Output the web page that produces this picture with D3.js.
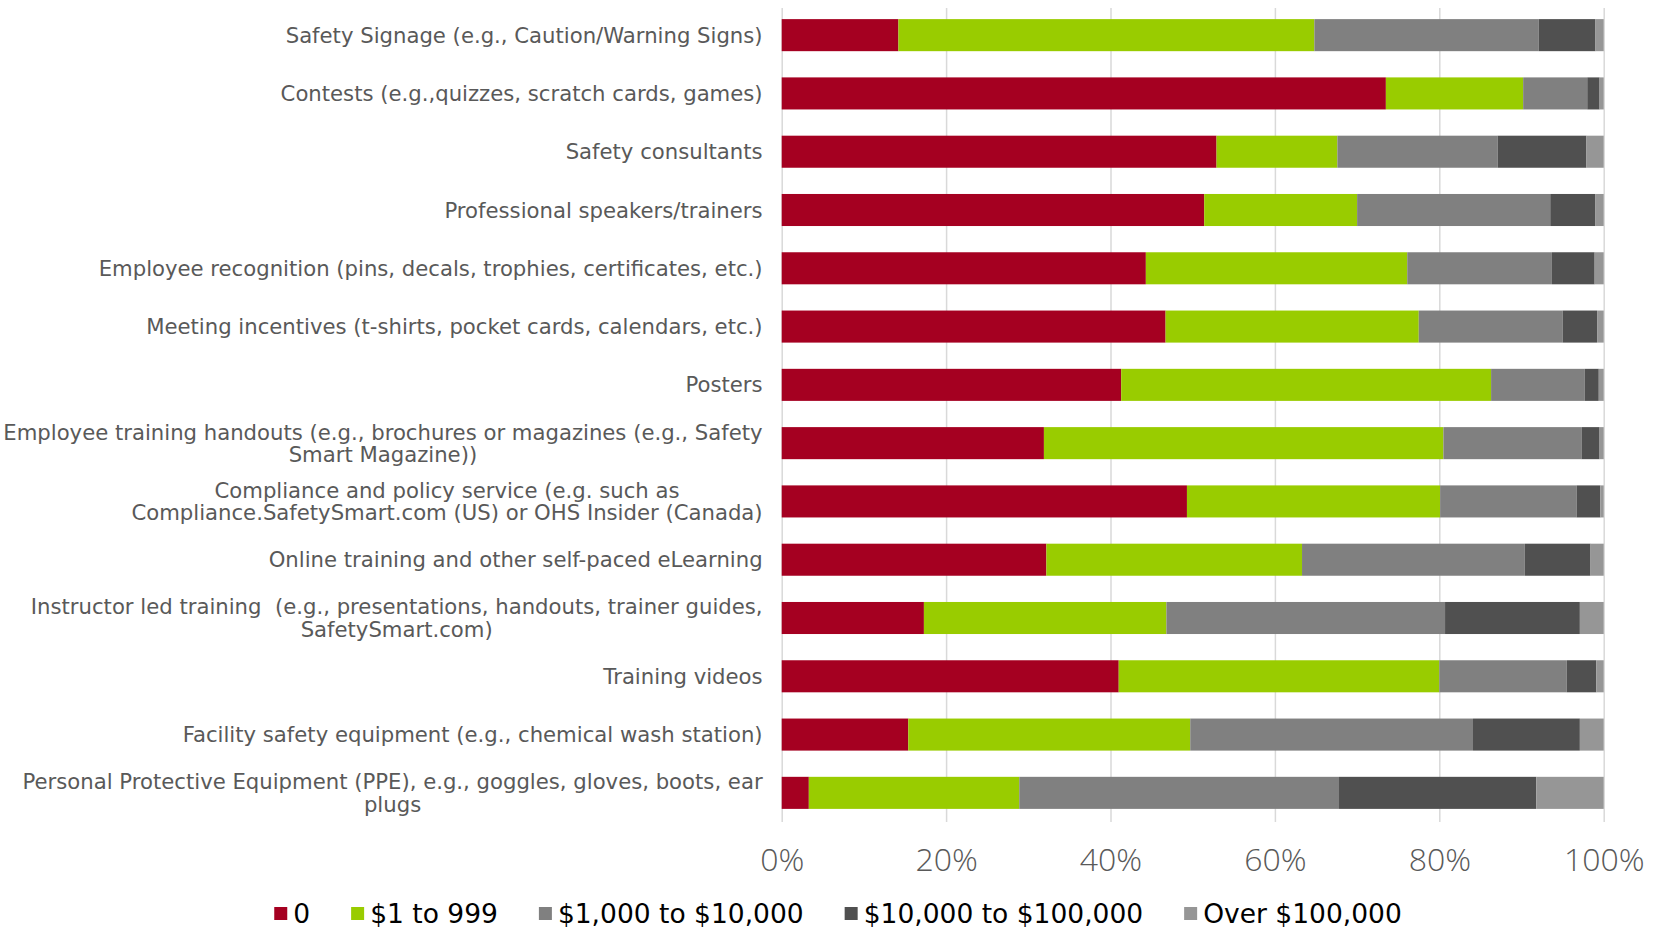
<!DOCTYPE html>
<html>
<head>
<meta charset="utf-8">
<script src="https://cdn.jsdelivr.net/npm/d3@7"></script>
<style>
  html, body { margin: 0; padding: 0; background: #fff; }
  svg { display: block; }
  text { font-family: "DejaVu Sans", "Open Sans", sans-serif; fill: #595959; }
  .cat { white-space: pre; }
</style>
</head>
<body>
<svg id="chart" width="1663" height="930"></svg>
<script>
// ---- Data ----
const categories = [
  "Safety Signage (e.g., Caution/Warning Signs)",
  "Contests (e.g.,quizzes, scratch cards, games)",
  "Safety consultants",
  "Professional speakers/trainers",
  "Employee recognition (pins, decals, trophies, certificates, etc.)",
  "Meeting incentives (t-shirts, pocket cards, calendars, etc.)",
  "Posters",
  "Employee training handouts (e.g., brochures or magazines (e.g., Safety\nSmart Magazine))",
  "Compliance and policy service (e.g. such as\nCompliance.SafetySmart.com (US) or OHS Insider (Canada)",
  "Online training and other self-paced eLearning",
  "Instructor led training  (e.g., presentations, handouts, trainer guides,\nSafetySmart.com)",
  "Training videos",
  "Facility safety equipment (e.g., chemical wash station)",
  "Personal Protective Equipment (PPE), e.g., goggles, gloves, boots, ear\nplugs"
];
const seriesNames = ["0", "$1 to 999", "$1,000 to $10,000", "$10,000 to $100,000", "Over $100,000"];
const seriesColors = ["#A50021", "#99CC00", "#808080", "#505050", "#969696"];

const zero      = [14.2, 73.5, 52.9, 51.4, 44.3, 46.7, 41.3, 31.9, 49.3, 32.2, 17.3, 41.0, 15.4, 3.3];
const upTo999   = [50.6, 16.7, 14.7, 18.6, 31.8, 30.8, 45.0, 48.6, 30.8, 31.1, 29.5, 39.0, 34.3, 25.6];
const upTo10k   = [27.3,  7.8, 19.5, 23.5, 17.6, 17.5, 11.4, 16.8, 16.6, 27.1, 33.9, 15.5, 34.4, 38.9];
const upTo100k  = [ 6.9,  1.5, 10.8,  5.5,  5.2,  4.2,  1.7,  2.2,  2.9,  8.0, 16.4,  3.6, 13.0, 24.0];
const over100k  = [ 1.0,  0.5,  2.1,  1.0,  1.1,  0.8,  0.6,  0.5,  0.4,  1.6,  2.9,  0.9,  2.9,  8.2];

const tickValues = [0, 0.2, 0.4, 0.6, 0.8, 1.0];
const tickLabels = ["0%", "20%", "40%", "60%", "80%", "100%"];

// ---- Build table ----
const seriesArrays = [zero, upTo999, upTo10k, upTo100k, over100k];
const table = categories.map((c, i) => {
  const row = { category: c };
  const total = d3.sum(seriesArrays, a => a[i]);
  seriesNames.forEach((s, k) => { row[s] = seriesArrays[k][i] / total; });
  return row;
});

// ---- Layout ----
const svg = d3.select("#chart");
const plot = { left: 781.7, right: 1603.7, top: 6, bottom: 822 };

const x = d3.scaleLinear().domain([0, 1]).range([plot.left, plot.right]);
const y = d3.scaleBand().domain(categories).range([plot.top, plot.bottom])
  .paddingInner(0.45).paddingOuter(0.225);
const color = d3.scaleOrdinal().domain(seriesNames).range(seriesColors);

// gridlines
svg.append("g")
  .attr("transform", `translate(0,${plot.bottom})`)
  .call(d3.axisBottom(x).tickValues(tickValues).tickSize(-(plot.bottom - plot.top - 2)).tickFormat(""))
  .call(g => g.select(".domain").remove())
  .call(g => g.selectAll("line").attr("stroke", "#d9d9d9").attr("stroke-width", 1.5));

// bars
const stacked = d3.stack().keys(seriesNames)(table);
svg.append("g").selectAll("g")
  .data(stacked)
  .join("g")
  .attr("fill", d => color(d.key))
  .selectAll("rect")
  .data(d => d)
  .join("rect")
  .attr("x", d => x(d[0]))
  .attr("width", d => x(d[1]) - x(d[0]))
  .attr("y", d => y(d.data.category))
  .attr("height", y.bandwidth());

// x axis labels
svg.append("g")
  .attr("transform", `translate(0,${plot.bottom})`)
  .call(d3.axisBottom(x).tickValues(tickValues).tickSize(0).tickFormat((d, i) => tickLabels[i]))
  .call(g => g.select(".domain").remove())
  .call(g => g.selectAll("text")
    .attr("y", 49).attr("dy", 0)
    .style("font-size", "32px").style("font-weight", 300)
    .style("font-family", "'Open Sans', Lato, sans-serif").attr("fill", "#595959"));

// category labels (right aligned block, lines centered within block)
const labelRight = 762.6;
const lineGap = 22.3;
const catG = svg.append("g");
categories.forEach(cat => {
  const lines = cat.split("\n");
  const cy = y(cat) + y.bandwidth() / 2;
  const g = catG.append("g");
  const texts = lines.map((ln, j) => g.append("text")
    .attr("class", "cat")
    .text(ln)
    .attr("y", cy + (j - (lines.length - 1) / 2) * lineGap)
    .attr("dy", "0.36em")
    .style("font-size", "21.2px"));
  const widths = texts.map(t => t.node().getComputedTextLength());
  const bw = d3.max(widths);
  texts.forEach(t => t.attr("x", labelRight - bw / 2).attr("text-anchor", "middle"));
});

// legend
const legend = svg.append("g");
let lx = 0;
seriesNames.forEach((s, i) => {
  const g = legend.append("g").attr("transform", `translate(${lx},0)`);
  g.append("rect").attr("x", 0).attr("y", -16).attr("width", 13).attr("height", 13).attr("fill", seriesColors[i]);
  const t = g.append("text").text(s).attr("x", 19).attr("y", 0)
    .style("font-size", "26.5px").attr("fill", "#000").style("fill", "#000");
  const w = 19 + t.node().getComputedTextLength();
  lx += w + 41;
});
const legendWidth = lx - 41;
legend.attr("transform", `translate(${838 - legendWidth / 2},923)`);
</script>
</body>
</html>
